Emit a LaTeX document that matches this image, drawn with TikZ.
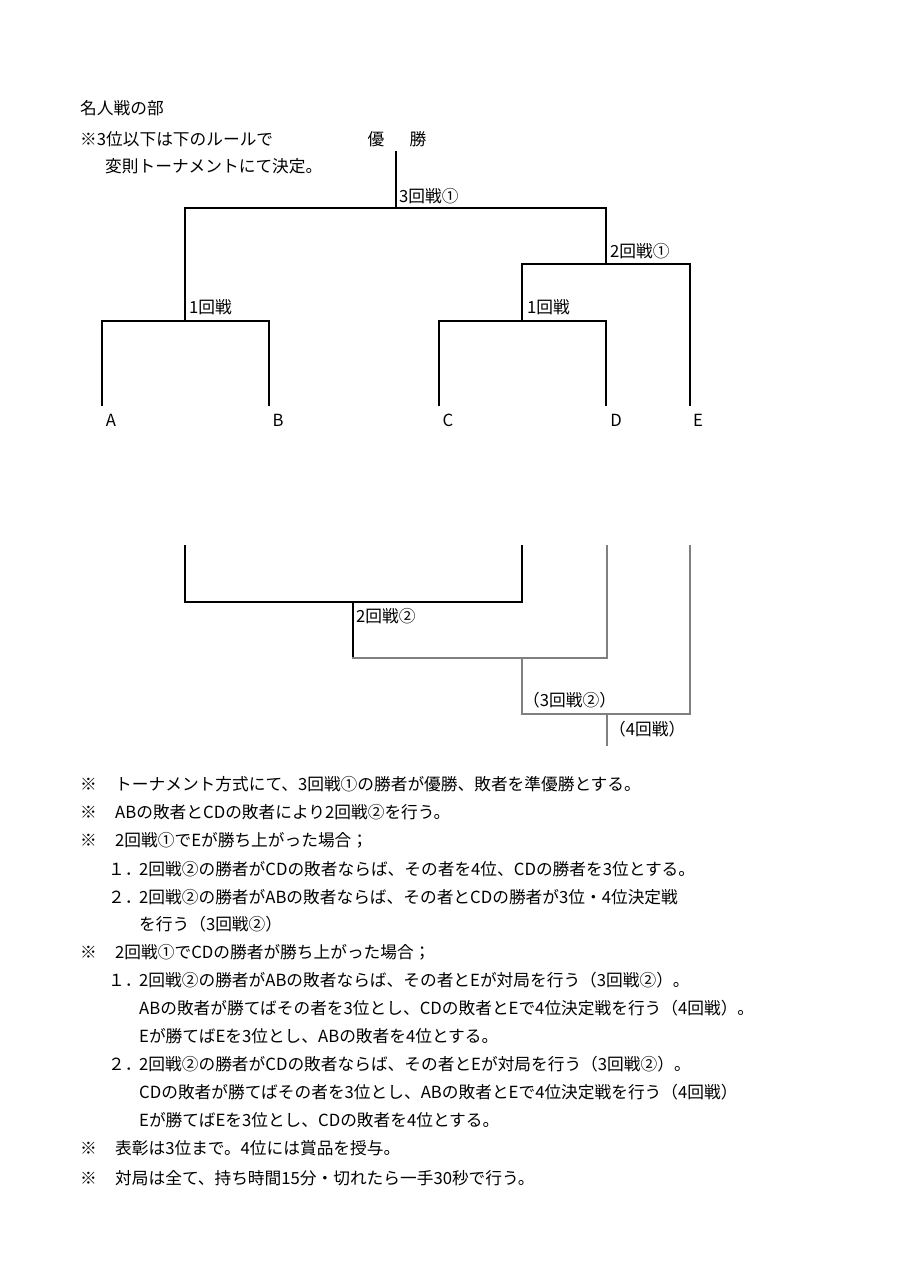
\documentclass[tikz,border=0pt]{standalone}
\usepackage{fontspec}
\setmainfont{Noto Sans CJK JP}
\begin{document}
\begin{tikzpicture}[x=1pt,y=-1pt,
  txt/.style={anchor=west,inner sep=0pt,font=\fontsize{16.7}{16.7}\selectfont},
  lbl/.style={anchor=center,inner sep=0pt,font=\fontsize{16.7}{16.7}\selectfont},
  blk/.style={draw=black,line width=1.5pt,line cap=rect},
  gry/.style={draw=black!50,line width=1.6pt,line cap=rect}]
\useasboundingbox (0,0) rectangle (905,1280);
% header texts
\node[txt] (h1) at (80,108) {名人戦の部};
\node[txt] (h2) at (80,139) {※3位以下は下のルールで};
\node[lbl] (yu) at (376,139) {優};
\node[lbl] (sho) at (418,139) {勝};
\node[txt] (h3) at (105,166) {変則トーナメントにて決定。};
% upper bracket coordinates
\coordinate (top) at (396,152);
\coordinate (r3) at (396,208);
\coordinate (r3l) at (185,208);
\coordinate (r3r) at (606,208);
\coordinate (ab) at (185,321);
\coordinate (abl) at (102,321);
\coordinate (abr) at (269,321);
\coordinate (aend) at (102,405);
\coordinate (bend) at (269,405);
\coordinate (r2) at (606,264);
\coordinate (r2l) at (522,264);
\coordinate (r2r) at (690,264);
\coordinate (cd) at (522,321);
\coordinate (cdl) at (439,321);
\coordinate (cdr) at (606,321);
\coordinate (cend) at (439,405);
\coordinate (dend) at (606,405);
\coordinate (eend) at (690,405);
\draw[blk] (top) -- (r3);
\draw[blk] (r3l) -- (r3r);
\draw[blk] (r3l) -- (ab);
\draw[blk] (abl) -- (abr);
\draw[blk] (abl) -- (aend);
\draw[blk] (abr) -- (bend);
\draw[blk] (r3r) -- (r2);
\draw[blk] (r2l) -- (r2r);
\draw[blk] (r2l) -- (cd);
\draw[blk] (cdl) -- (cdr);
\draw[blk] (cdl) -- (cend);
\draw[blk] (cdr) -- (dend);
\draw[blk] (r2r) -- (eend);
\node[txt] (l3) at (399,196) {3回戦①};
\node[txt] (l2) at (610,251) {2回戦①};
\node[txt] (l1a) at (189,307) {1回戦};
\node[txt] (l1b) at (527,307) {1回戦};
\node[lbl] (A) at (111,420) {A};
\node[lbl] (B) at (278,420) {B};
\node[lbl] (C) at (448,420) {C};
\node[lbl] (D) at (616,420) {D};
\node[lbl] (E) at (698,420) {E};
% lower bracket
\coordinate (ls) at (185,546);
\coordinate (lb) at (185,602);
\coordinate (cs) at (522,546);
\coordinate (cb) at (522,602);
\coordinate (m2) at (353,602);
\coordinate (m2b) at (353,658);
\coordinate (ds) at (607,546);
\coordinate (db) at (607,658);
\coordinate (m3) at (522,658);
\coordinate (m3b) at (522,714);
\coordinate (es) at (690,546);
\coordinate (eb) at (690,714);
\coordinate (m4) at (607,714);
\coordinate (m4b) at (607,745);
\draw[blk] (ls) -- (lb) -- (cb) -- (cs);
\draw[blk] (m2) -- (m2b);
\draw[gry] (m2b) -- (db) -- (ds);
\draw[gry] (m3) -- (m3b) -- (eb) -- (es);
\draw[gry] (m4) -- (m4b);
\node[txt] (l22) at (356,616) {2回戦②};
\node[txt] (l32) at (523,700) {（3回戦②）};
\node[txt] (l4) at (609,729) {（4回戦）};
% notes
\node[txt] (k1) at (80,784) {※};
\node[txt] (t1) at (115,784) {トーナメント方式にて、3回戦①の勝者が優勝、敗者を準優勝とする。};
\node[txt] (k2) at (80,812) {※};
\node[txt] (t2) at (115,812) {ABの敗者とCDの敗者により2回戦②を行う。};
\node[txt] (k3) at (80,840) {※};
\node[txt] (t3) at (115,840) {2回戦①でEが勝ち上がった場合；};
\node[txt] (n31) at (108,869) {１．};
\node[txt] (t31) at (139,869) {2回戦②の勝者がCDの敗者ならば、その者を4位、CDの勝者を3位とする。};
\node[txt] (n32) at (108,897) {２．};
\node[txt] (t32) at (139,897) {2回戦②の勝者がABの敗者ならば、その者とCDの勝者が3位・4位決定戦};
\node[txt] (t32b) at (139,924) {を行う（3回戦②）};
\node[txt] (k4) at (80,952) {※};
\node[txt] (t4) at (115,952) {2回戦①でCDの勝者が勝ち上がった場合；};
\node[txt] (n41) at (108,980) {１．};
\node[txt] (t41) at (139,980) {2回戦②の勝者がABの敗者ならば、その者とEが対局を行う（3回戦②）。};
\node[txt] (t41b) at (139,1008) {ABの敗者が勝てばその者を3位とし、CDの敗者とEで4位決定戦を行う（4回戦）。};
\node[txt] (t41c) at (139,1036) {Eが勝てばEを3位とし、ABの敗者を4位とする。};
\node[txt] (n42) at (108,1064) {２．};
\node[txt] (t42) at (139,1064) {2回戦②の勝者がCDの敗者ならば、その者とEが対局を行う（3回戦②）。};
\node[txt] (t42b) at (139,1092) {CDの敗者が勝てばその者を3位とし、ABの敗者とEで4位決定戦を行う（4回戦）};
\node[txt] (t42c) at (139,1120) {Eが勝てばEを3位とし、CDの敗者を4位とする。};
\node[txt] (k5) at (80,1148) {※};
\node[txt] (t5) at (115,1148) {表彰は3位まで。4位には賞品を授与。};
\node[txt] (k6) at (80,1178) {※};
\node[txt] (t6) at (115,1178) {対局は全て、持ち時間15分・切れたら一手30秒で行う。};
\end{tikzpicture}
\end{document}
